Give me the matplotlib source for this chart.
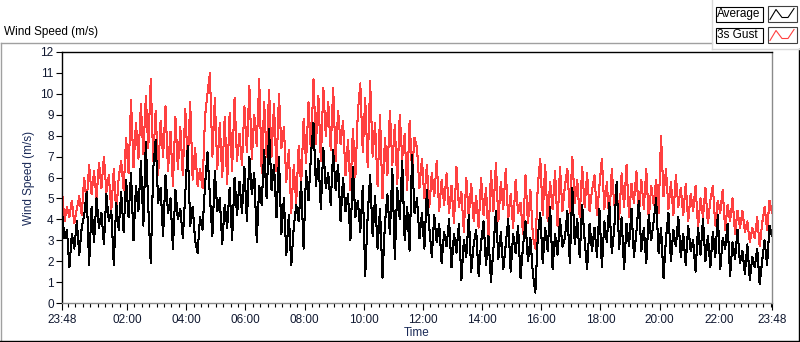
import numpy as np
import matplotlib.pyplot as plt
from matplotlib.patches import Rectangle

plt.rcParams['font.family'] = ['Liberation Sans', 'DejaVu Sans']

# wind speed in m/s, one value every 5 min starting 23:48 (one row = one hour)
gust = [
    5.4, 3.9, 4.6, 4.1, 4.9, 3.8, 4.5, 5.1, 4.2, 6.0, 4.8, 6.6,
    5.2, 6.3, 5.0, 6.7, 5.5, 7.0, 5.3, 6.1, 4.4, 6.4, 4.3, 6.0,
    6.8, 5.4, 7.9, 6.2, 9.7, 6.5, 8.6, 6.9, 9.5, 7.1, 9.9, 7.4,
    10.7, 6.8, 9.2, 6.1, 8.7, 7.0, 9.4, 6.3, 8.2, 5.6, 8.9, 6.4,
    8.4, 6.1, 9.3, 6.6, 9.6, 5.9, 7.4, 5.6, 6.4, 5.5, 8.9, 10.0,
    11.0, 7.0, 9.8, 6.4, 8.6, 6.0, 8.9, 5.7, 9.1, 6.3, 9.8, 6.8,
    8.1, 6.6, 9.4, 7.2, 10.4, 6.9, 9.0, 7.5, 10.7, 6.2, 9.6, 7.0,
    10.2, 7.0, 9.5, 6.3, 10.0, 7.4, 8.4, 5.8, 7.3, 4.3, 6.6, 4.8,
    7.5, 5.6, 8.8, 6.7, 9.6, 7.1, 10.7, 7.6, 9.9, 6.8, 10.3, 8.0,
    9.6, 7.3, 10.3, 6.8, 9.2, 7.6, 8.7, 6.1, 7.8, 5.4, 8.3, 6.0,
    9.1, 10.5, 7.2, 9.8, 6.5, 10.6, 7.0, 8.6, 5.6, 9.0, 5.0, 7.9,
    6.1, 9.2, 6.6, 8.5, 5.7, 9.0, 6.9, 8.1, 5.4, 8.7, 6.3, 7.9,
    7.4, 5.5, 6.9, 5.0, 6.6, 4.6, 6.2, 5.1, 6.8, 4.4, 5.9, 4.7,
    6.2, 4.3, 5.6, 3.8, 6.5, 4.6, 5.3, 3.4, 6.0, 4.1, 5.7, 3.9,
    5.1, 3.6, 6.0, 4.2, 5.5, 3.1, 6.3, 4.4, 6.7, 3.9, 5.8, 4.5,
    6.4, 4.0, 5.2, 3.6, 5.9, 4.3, 4.8, 3.3, 6.1, 3.8, 5.4, 3.2,
    2.6, 5.6, 6.9, 4.2, 6.6, 3.9, 5.8, 4.5, 6.3, 3.7, 6.5, 4.4,
    5.6, 6.4, 4.3, 7.0, 4.8, 5.9, 4.1, 6.5, 4.6, 6.2, 4.4, 5.4,
    6.1, 4.2, 5.6, 6.9, 4.5, 5.8, 3.9, 6.4, 4.7, 5.3, 4.0, 6.2,
    4.6, 6.6, 4.1, 5.7, 4.8, 6.3, 4.2, 5.9, 4.5, 6.4, 4.0, 5.6,
    4.7, 5.9, 4.3, 8.0, 5.1, 6.4, 4.5, 5.8, 4.2, 6.1, 4.6, 5.5,
    4.2, 5.7, 3.9, 5.2, 4.4, 5.6, 3.6, 5.0, 4.1, 5.5, 3.8, 4.9,
    5.6, 3.7, 4.9, 4.3, 5.4, 3.5, 4.7, 3.9, 5.0, 3.3, 4.4, 3.6,
    4.4, 3.4, 3.9, 2.9, 3.6, 3.1, 4.1, 2.7, 3.8, 4.6, 3.5, 4.9,
    4.3,
]

average = [
    4.4, 3.1, 3.5, 1.7, 3.3, 2.6, 3.9, 2.3, 3.6, 4.2, 5.3, 1.8,
    4.6, 2.9, 5.0, 3.6, 4.3, 2.8, 5.2, 3.9, 4.4, 1.8, 4.8, 3.5,
    5.3, 3.4, 5.9, 4.1, 6.2, 3.0, 5.6, 4.4, 6.8, 3.7, 7.7, 4.6,
    1.9, 6.4, 7.8, 4.8, 5.5, 3.2, 6.1, 4.3, 5.0, 2.6, 5.4, 4.0,
    4.5, 3.1, 5.2, 7.5, 3.7, 4.6, 3.0, 2.4, 4.1, 3.5, 5.6, 7.2,
    5.1, 3.2, 6.3, 4.4, 5.0, 2.8, 4.7, 3.6, 5.5, 3.0, 6.0, 4.2,
    5.8, 4.3, 6.5, 3.9, 7.0, 5.2, 6.2, 2.9, 5.6, 4.7, 7.3, 5.0,
    8.3, 5.4, 6.6, 4.1, 7.0, 3.3, 5.0, 2.3, 4.2, 1.8, 3.6, 4.7,
    3.9, 5.8, 2.6, 6.3, 4.9, 7.1, 8.6, 5.6, 6.9, 4.5, 7.4, 5.5,
    6.2, 4.7, 7.3, 5.4, 6.6, 3.9, 6.0, 4.4, 5.2, 3.0, 6.5, 4.1,
    4.9, 3.4, 5.6, 1.3, 4.2, 6.1, 3.2, 5.1, 2.6, 4.5, 1.2, 3.8,
    5.2, 3.3, 6.4, 2.1, 5.5, 4.0, 6.8, 3.0, 4.6, 2.5, 7.1, 4.3,
    5.0, 3.1, 4.3, 2.6, 5.4, 3.6, 2.2, 4.2, 2.9, 3.8, 1.9, 3.4,
    2.7, 4.0, 1.7, 3.3, 2.4, 3.8, 1.1, 3.0, 2.2, 4.2, 1.5, 2.8,
    3.5, 1.3, 2.9, 3.9, 1.8, 3.2, 1.0, 2.6, 4.4, 2.1, 3.4, 1.6,
    2.8, 4.0, 1.5, 3.3, 2.4, 3.7, 1.2, 2.7, 3.9, 2.0, 3.1, 1.4,
    0.5, 3.2, 4.3, 1.9, 3.6, 2.5, 4.6, 1.6, 3.3, 2.3, 4.0, 2.7,
    3.1, 4.4, 1.9, 5.5, 2.8, 4.0, 2.2, 4.7, 3.0, 1.6, 3.8, 2.5,
    3.6, 2.2, 4.5, 1.7, 3.9, 2.9, 4.8, 2.4, 3.5, 5.8, 2.6, 4.1,
    1.6, 3.8, 2.7, 4.5, 2.2, 3.4, 4.9, 2.5, 3.6, 1.9, 4.2, 3.0,
    3.9, 5.0, 2.4, 3.6, 1.2, 3.1, 4.3, 2.0, 3.5, 2.7, 4.1, 2.2,
    3.3, 1.8, 3.7, 2.5, 3.0, 1.5, 3.6, 2.3, 4.0, 2.0, 3.2, 1.7,
    3.4, 2.2, 4.2, 1.6, 3.1, 2.6, 3.8, 1.3, 2.9, 2.1, 3.5, 1.9,
    2.5, 1.4, 2.8, 1.1, 2.2, 1.7, 2.6, 0.9, 2.0, 3.0, 1.8, 3.7,
    3.2,
]

# hours after the first sample (23:48)
tick_hours = [0, 2.2, 4.2, 6.2, 8.2, 10.2, 12.2, 14.2, 16.2, 18.2, 20.2, 22.2, 24]
tick_labels = ["23:48", "02:00", "04:00", "06:00", "08:00", "10:00", "12:00",
               "14:00", "16:00", "18:00", "20:00", "22:00", "23:48"]

t = np.arange(len(gust)) * 5 / 60

W, H = 800, 342
fig = plt.figure(figsize=(W / 100, H / 100), dpi=100)

# panel frame and legend, drawn in pixel coordinates
bg = fig.add_axes([0, 0, 1, 1])
bg.set_xlim(0, W)
bg.set_ylim(H, 0)
bg.axis('off')
bg.plot([0.5, 712], [42.5, 42.5], color='#a0a0a0', lw=1)
bg.plot([0.5, 0.5], [42.5, H], color='#a0a0a0', lw=1)
bg.plot([0, 798.5], [340.8, 340.8], color='black', lw=1)
bg.plot([798.5, 798.5], [48.5, 341], color='black', lw=1)
bg.plot([711.5, 711.5], [0, 48.5], color='#d8d8d8', lw=1)
bg.plot([711.5, 800], [48.5, 48.5], color='#d8d8d8', lw=1)
bg.text(4, 32, "Wind Speed (m/s)", fontsize=8.5, va='center', ha='left')

names = ["Average", "3s Gust"]
colors = ['black', '#ff4040']
for i, (name, c) in enumerate(zip(names, colors)):
    y0 = 6.5 + i * 21
    bg.add_patch(Rectangle((715.5, y0), 47, 15, fill=False, ec='black', lw=0.8))
    bg.text(717, y0 + 7.5, name, fontsize=8.5, va='center', ha='left')
    bg.add_patch(Rectangle((767.5, y0 - 0.5), 29, 16, fill=False, ec='#404040', lw=0.8))
    bg.plot([770, 776, 782, 788, 794], [y0 + 13, y0 + 3, y0 + 11, y0 + 11, y0 + 2],
            color=c, lw=0.8)

ax = fig.add_axes([62 / W, 39 / H, 710 / W, 251 / H])
ax.plot(t, gust, color='#ff4040', lw=0.75, antialiased=False)
ax.plot(t, average, color='black', lw=0.75, antialiased=False)

ax.set_xlim(0, 24)
ax.set_ylim(0, 12)
ax.set_yticks(range(13))
ax.set_xticks(tick_hours, tick_labels)
ax.set_xticks(np.arange(0.2, 24, 0.25), minor=True)
ax.tick_params(axis='both', labelsize=8.5, colors='black', width=0.8)
ax.tick_params(axis='x', which='major', length=5, pad=3)
ax.tick_params(axis='x', which='minor', length=3, width=0.8)
ax.tick_params(axis='y', length=4, pad=2)
for lab in ax.get_xticklabels() + ax.get_yticklabels():
    lab.set_color('#101830')

for side in ['top', 'left']:
    ax.spines[side].set_color('black')
for side in ['bottom', 'right']:
    ax.spines[side].set_color('#8a8a8a')
for s in ax.spines.values():
    s.set_linewidth(1)

ax.set_ylabel("Wind Speed (m/s)", fontsize=8.5, color='#1a2a58', labelpad=4)
ax.set_xlabel("Time", fontsize=8.5, color='#1a2a58', labelpad=1)

fig.savefig("out.png", dpi=100)
